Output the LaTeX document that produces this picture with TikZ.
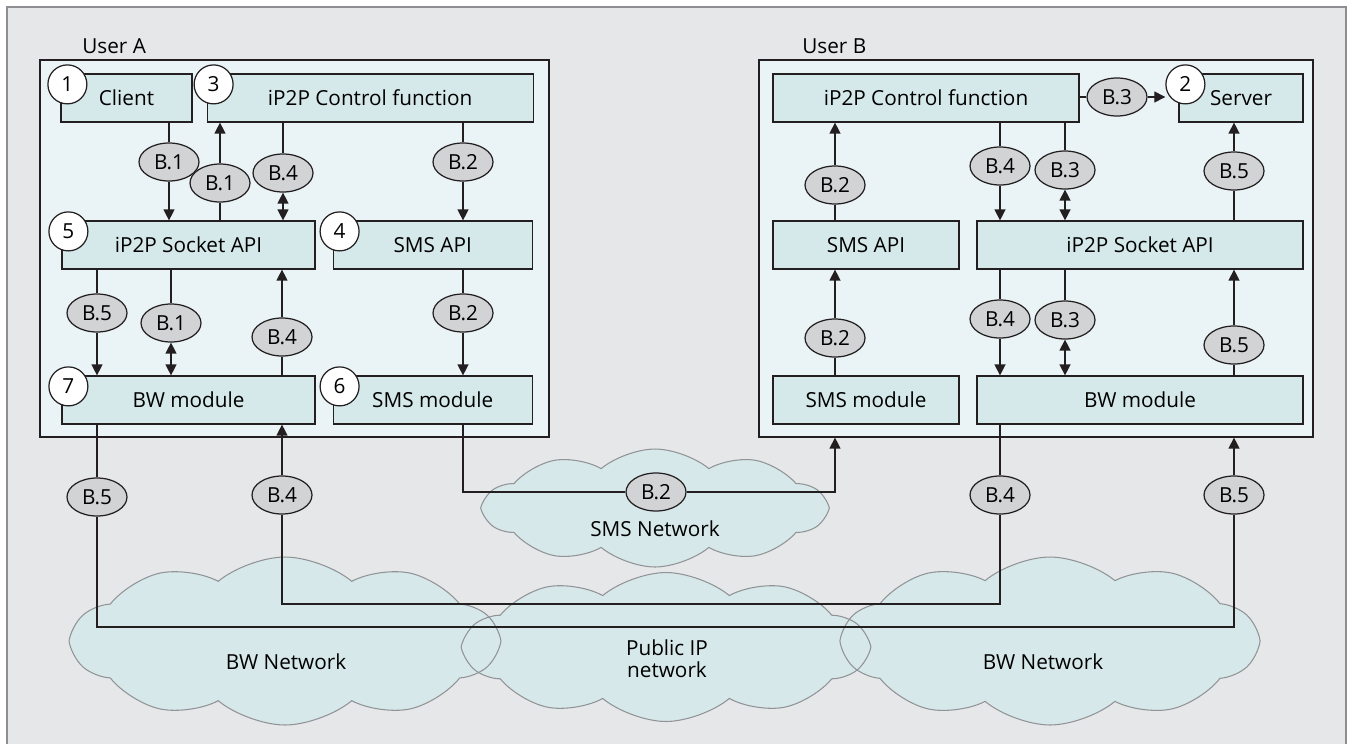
\documentclass[tikz,border=0pt]{standalone}
\usepackage{fontspec}
\setmainfont{Open Sans}
\usetikzlibrary{arrows.meta,positioning,fit,calc,backgrounds,shapes.symbols,shapes.geometric}

\definecolor{framebg}{RGB}{230,231,232}
\definecolor{frameln}{RGB}{140,142,145}
\definecolor{userbg}{RGB}{234,244,246}
\definecolor{boxbg}{RGB}{213,232,234}
\definecolor{tagbg}{RGB}{209,211,212}
\definecolor{cloudbg}{RGB}{214,232,234}
\definecolor{cloudln}{RGB}{145,147,150}
\definecolor{ink}{RGB}{35,31,32}

\begin{document}
\begin{tikzpicture}[x=0.02cm, y=-0.02cm,
  font=\fontsize{11.8}{12.5}\selectfont,
  >={Triangle[length=2.2mm,width=2.2mm]},
  user/.style={draw=ink, line width=0.7pt, fill=userbg, inner sep=0pt},
  box/.style={draw=ink, line width=0.7pt, fill=boxbg, inner sep=0pt, minimum height=0.96cm},
  num/.style={circle, draw=ink, line width=0.7pt, fill=white, inner sep=0pt, minimum size=0.78cm},
  tag/.style={ellipse, draw=ink, line width=0.7pt, fill=tagbg, inner sep=0pt, minimum width=1.2cm, minimum height=0.76cm},
  cloudbase/.style={cloud, cloud puffs=10, cloud puff arc=80, cloud ignores aspect, inner sep=0pt},
  cloudfill/.style={cloudbase, fill=cloudbg},
  cloudline/.style={cloudbase, draw=cloudln, line width=0.6pt},
  link/.style={->, line width=0.75pt, ink},
  title/.style={anchor=west, inner sep=0pt}]
\useasboundingbox (0,0) rectangle (1351,744);
% frame and cloud fills
\begin{scope}[on background layer]
\fill[framebg] (7,7) rectangle (1346,744);
\draw[frameln, line width=0.8pt] (7,744) -- (7,7) -- (1346,7) -- (1346,744);
\node[cloudfill, minimum width=6.82cm, minimum height=2.36cm] (smsnet) at (655,508) {};
\node[cloudfill, minimum width=8.5cm, minimum height=3.36cm] (bwleft) at (285,641) {};
\node[cloudfill, minimum width=8.04cm, minimum height=2.98cm] (pubip) at (666,647) {};
\node[cloudfill, minimum width=8.28cm, minimum height=3.36cm] (bwright) at (1050,641) {};
\end{scope}
\node[cloudline, minimum width=6.82cm, minimum height=2.36cm] (smsnetln) at (smsnet) {};
\node[cloudline, minimum width=8.5cm, minimum height=3.36cm] (bwleftln) at (bwleft) {};
\node[cloudline, minimum width=8.04cm, minimum height=2.98cm] (pubipln) at (pubip) {};
\node[cloudline, minimum width=8.28cm, minimum height=3.36cm] (bwrightln) at (bwright) {};
% user A
\node[user, fit={(40,60) (549,437)}] (userA) {};
\node[title] (userAlbl) at (82,46) {User A};
\node[box, minimum width=2.62cm] (client) at (126.5,98) {Client};
\node[box, minimum width=6.52cm, right=0.28cm of client] (ctrlA) {iP2P Control function};
\node[box, minimum width=5.06cm] (sockA) at (188.5,245) {iP2P Socket API};
\node[box, minimum width=3.98cm, right=0.34cm of sockA] (smsapiA) {SMS API};
\node[box, minimum width=5.06cm] (bwA) at (188.5,400) {BW module};
\node[box, minimum width=3.98cm, right=0.34cm of bwA] (smsmodA) {SMS module};
\node[num] (n1) at ([shift={(7,11)}]client.north west) {1};
\node[num] (n3) at ([shift={(7,11)}]ctrlA.north west) {3};
\node[num] (n5) at ([shift={(7,11)}]sockA.north west) {5};
\node[num] (n4) at ([shift={(7,11)}]smsapiA.north west) {4};
\node[num] (n7) at ([shift={(7,11)}]bwA.north west) {7};
\node[num] (n6) at ([shift={(7,11)}]smsmodA.north west) {6};
\node[tag] (ua1) at (169,162) {B.1};
\node[tag] (ua2) at (220,183) {B.1};
\node[tag] (ua3) at (283,173) {B.4};
\node[tag] (ua4) at (463,162) {B.2};
\node[tag] (la1) at (97,313) {B.5};
\node[tag] (la2) at (171,323) {B.1};
\node[tag] (la3) at (282,337) {B.4};
\node[tag] (la4) at (463,313) {B.2};
\draw[link] (client.south -| ua1) -- (ua1) -- (sockA.north -| ua1);
\draw[link] (sockA.north -| ua2) -- (ua2) -- (ctrlA.south -| ua2);
\draw[link, <->] (ctrlA.south -| ua3) -- (ua3) -- (sockA.north -| ua3);
\draw[link] (ctrlA.south -| ua4) -- (ua4) -- (smsapiA.north -| ua4);
\draw[link] (sockA.south -| la1) -- (la1) -- (bwA.north -| la1);
\draw[link, <->] (sockA.south -| la2) -- (la2) -- (bwA.north -| la2);
\draw[link] (bwA.north -| la3) -- (la3) -- (sockA.south -| la3);
\draw[link] (smsapiA.south -| la4) -- (la4) -- (smsmodA.north -| la4);
% user B
\node[user, fit={(759,60) (1313,437)}] (userB) {};
\node[title] (userBlbl) at (802,46) {User B};
\node[box, minimum width=6.12cm] (ctrlB) at (926,98) {iP2P Control function};
\node[box, minimum width=2.48cm] (server) at (1241,98) {Server};
\node[box, minimum width=3.72cm] (smsapiB) at (866,245) {SMS API};
\node[box, minimum width=6.52cm] (sockB) at (1140,245) {iP2P Socket API};
\node[box, minimum width=3.72cm] (smsmodB) at (866,400) {SMS module};
\node[box, minimum width=6.52cm] (bwB) at (1140,400) {BW module};
\node[num] (n2) at ([shift={(7,11)}]server.north west) {2};
\node[tag] (ub1) at (835,185) {B.2};
\node[tag] (ub2) at (1000,166) {B.4};
\node[tag] (ub3) at (1065,170) {B.3};
\node[tag] (ub4) at (1234,171) {B.5};
\node[tag] (ub5) at (1117,97) {B.3};
\node[tag] (lb1) at (835,338) {B.2};
\node[tag] (lb2) at (1000,319) {B.4};
\node[tag] (lb3) at (1065,320) {B.3};
\node[tag] (lb4) at (1234,345) {B.5};
\draw[link] (smsapiB.north -| ub1) -- (ub1) -- (ctrlB.south -| ub1);
\draw[link] (ctrlB.south -| ub2) -- (ub2) -- (sockB.north -| ub2);
\draw[link, <->] (ctrlB.south -| ub3) -- (ub3) -- (sockB.north -| ub3);
\draw[link] (sockB.north -| ub4) -- (ub4) -- (server.south -| ub4);
\draw[link] (ctrlB.east |- ub5) -- (ub5) -- (n2.west |- ub5);
\draw[link] (smsmodB.north -| lb1) -- (lb1) -- (smsapiB.south -| lb1);
\draw[link] (sockB.south -| lb2) -- (lb2) -- (bwB.north -| lb2);
\draw[link, <->] (sockB.south -| lb3) -- (lb3) -- (bwB.north -| lb3);
\draw[link] (bwB.north -| lb4) -- (lb4) -- (sockB.south -| lb4);
% networks
\node[tag] (ba5) at (97,497) {B.5};
\node[tag] (ba4) at (282,495) {B.4};
\node[tag] (sms2) at (656,492) {B.2};
\node[tag] (bb4) at (1000,495) {B.4};
\node[tag] (bb5) at (1234,495) {B.5};
\coordinate (b5turn) at (97,627);
\coordinate (b4turn) at (1000,604);
\draw[link] (bwA.south -| ba5) -- (ba5) -- (b5turn) -- (b5turn -| bb5) -- (bb5) -- (userB.south -| bb5);
\draw[link] (bwB.south -| bb4) -- (bb4) -- (b4turn) -- (b4turn -| ba4) -- (ba4) -- (bwA.south -| ba4);
\draw[link] (smsmodA.south -| la4) -- (la4 |- sms2) -- (sms2) -- (sms2 -| lb1) -- (userB.south -| lb1);
\node (smslbl) at (655,529) {SMS Network};
\node (bwleftlbl) at (286,662) {BW Network};
\node[align=center] (pubiplbl) at (667,659) {Public IP\\network};
\node (bwrightlbl) at (1043,662) {BW Network};
\end{tikzpicture}
\end{document}
